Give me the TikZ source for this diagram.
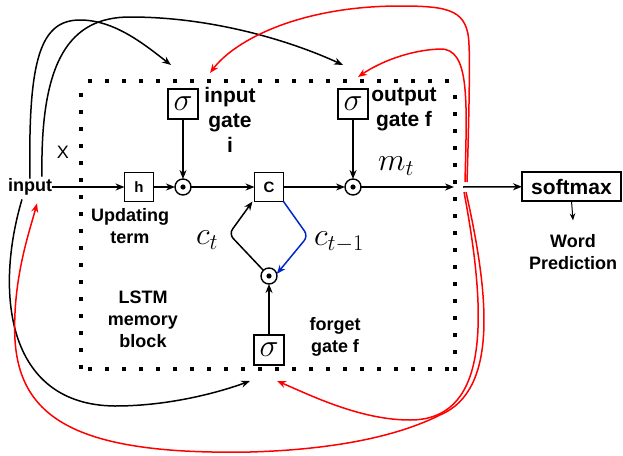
\RequirePackage{fix-cm}
\documentclass[tikz,border=0pt]{standalone}
\usepackage[no-math]{fontspec}
\setmainfont{Liberation Sans}
\usetikzlibrary{arrows.meta}
\definecolor{loopblue}{RGB}{0,40,200}
\begin{document}
\begin{tikzpicture}[x=1pt,y=-1pt,
  every node/.style={inner sep=0pt,outer sep=0pt},
  ln/.style={line width=1.5pt},
  arr/.style={ln,-{Stealth[length=9pt,width=7pt]}},
  sarr/.style={line width=1pt,-{Stealth[length=7pt,width=5.5pt]}},
  rarr/.style={line width=1.5pt,red,-{Stealth[length=9pt,width=7pt]}},
  barr/.style={line width=1.5pt,loopblue,-{Stealth[length=9pt,width=7pt]}},
  box/.style={draw,line width=1.4pt,minimum width=29pt,minimum height=29pt},
  sbox/.style={draw,line width=1.4pt,minimum width=30pt,minimum height=30pt,font=\fontsize{32}{32}\selectfont},
  odot/.style={circle,draw,line width=1.4pt,minimum size=16pt},
  dotline/.style={line width=3.5pt,dash pattern=on 3.5pt off 13.5pt},
  bigtxt/.style={font=\bfseries\fontsize{21}{25}\selectfont,align=center},
  midtxt/.style={font=\bfseries\fontsize{18}{22}\selectfont,align=center},
  mathtxt/.style={font=\fontsize{32}{32}\selectfont}
]
\useasboundingbox (0,0) rectangle (623,455);

% dotted block
\draw[dotline] (88.25,81) -- (449,81);
\draw[dotline] (88.25,369) -- (449,369);
\draw[dotline] (81,93.25) -- (81,369);
\draw[dotline] (455,95.25) -- (455,371);

% nodes
\node[midtxt] (in) at (30,187) {input};
\node[font=\fontsize{18}{18}\selectfont] (xl) at (63,152) {X};
\node[box,font=\bfseries\fontsize{15}{15}\selectfont] (h) at (139,187) {h};
\node[box,font=\bfseries\fontsize{15}{15}\selectfont] (C) at (269,187) {C};
\node[sbox] (s1) at (183,104) {$\sigma$};
\node[sbox] (s2) at (353,104) {$\sigma$};
\node[sbox] (s3) at (269,350) {$\sigma$};
\node[odot] (o1) at (183,187) {};
\node[odot] (o2) at (353,187) {};
\node[odot] (o3) at (269,276) {};
\fill (o1) circle (2.6);
\fill (o2) circle (2.6);
\fill (o3) circle (2.6);

\node[bigtxt] (igt) at (230,120) {input\\gate\\i};
\node[bigtxt] (ogt) at (404,109.5) {output\\gate f};
\node[midtxt] (upd) at (130,226) {Updating\\term};
\node[midtxt] (lstm) at (143,319) {LSTM\\memory\\block};
\node[midtxt] (fgt) at (335,336.5) {forget\\gate f};
\node[mathtxt] (ct) at (207,240) {$c_t$};
\node[mathtxt] (ct1) at (339,242) {$c_{t-1}$};
\node[mathtxt] (mt) at (396,166) {$m_t$};
\node[draw,line width=1.4pt,minimum width=99pt,minimum height=29pt,font=\bfseries\fontsize{21}{21}\selectfont] (sm) at (571.5,186.5) {softmax};
\node[midtxt] (wp) at (573,252) {Word\\Prediction};

\coordinate (mtend) at (454,187);
\coordinate (out) at (463,187);
\coordinate (lc) at (229,234);
\coordinate (rc) at (308,236);
\coordinate (ig1) at (171,65);
\coordinate (og1) at (343,65);
\coordinate (fg1) at (250,381);
\coordinate (ig2) at (210,73);
\coordinate (og2) at (358,77);
\coordinate (fg2) at (277,381);

% main flow
\draw[arr] (in) -- (h);
\draw[arr] (h) -- (o1);
\draw[arr] (s1) -- (o1);
\draw[arr] (o1) -- (C);
\draw[arr] (C) -- (o2);
\draw[arr] (s2) -- (o2);
\draw[arr] (o2) -- (mtend);
\draw[arr] (s3) -- (o3);
\draw[arr] (out) -- (sm);
\draw[sarr] (sm.south) -- ([yshift=14pt]wp.north);

% loop
\draw[arr,rounded corners=6pt] (o3.135) -- (lc) -- ([xshift=-2pt]C.south west);
\draw[barr,rounded corners=6pt] (C.south east) -- (rc) -- (o3.15);

% black curves from input
\draw[arr] (in.north) .. controls (28,60) and (40,20) .. (80,20)
  .. controls (115,20) and (145,45) .. (ig1);
\draw[arr] ([xshift=12pt,yshift=2pt]in.north) .. controls (40,60) and (70,17) .. (130,17)
  .. controls (220,17) and (300,45) .. (og1);
\draw[arr] ([xshift=-8pt,yshift=-4pt]in.south) .. controls (-5,290) and (5,405) .. (115,406)
  .. controls (170,406) and (220,392) .. (fg1);

% red curves from output
\draw[rarr] ([xshift=4pt,yshift=5pt]out) .. controls (469,120) and (470,60) .. (469,45)
  .. controls (468,10) and (450,6) .. (400,6)
  .. controls (300,6) and (235,40) .. (ig2);
\draw[rarr] ([xshift=2pt,yshift=5pt]out) .. controls (467,100) and (470,48) .. (440,49)
  .. controls (410,50) and (380,62) .. (og2);
\draw[rarr] ([xshift=1pt,yshift=-5pt]out) .. controls (490,330) and (485,420) .. (410,420)
  .. controls (360,420) and (310,395) .. (fg2);
\draw[rarr] ([xshift=3pt,yshift=-5pt]out) .. controls (488,290) and (500,390) .. (440,415)
  .. controls (390,440) and (320,450) .. (250,452)
  .. controls (80,455) and (20,420) .. (15,340)
  .. controls (12,280) and (30,230) .. ([xshift=7pt,yshift=-8pt]in.south);
\end{tikzpicture}
\end{document}
